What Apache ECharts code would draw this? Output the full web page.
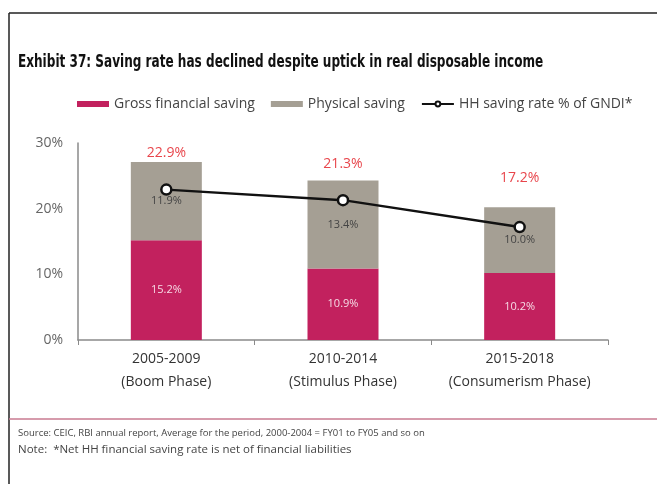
<!DOCTYPE html>
<html><head><meta charset="utf-8">
<script src="https://cdn.jsdelivr.net/npm/echarts@6/dist/echarts.min.js"></script>
<style>html,body{margin:0;padding:0;background:#fff}#c{width:657px;height:484px}</style>
</head><body><div id="c"></div>
<script>
const categories = ['2005-2009\n(Boom Phase)', '2010-2014\n(Stimulus Phase)', '2015-2018\n(Consumerism Phase)'];
const grossFinancial = [15.2, 10.9, 10.2];
const physical = [11.9, 13.4, 10.0];
const hhSavingRate = [22.9, 21.3, 17.2];
const yTicks = [0, 10, 20, 30];

const lineLabelDist = [23, 23, 36];
const FONT = '"Open Sans", Lato, sans-serif';

const chart = echarts.init(document.getElementById('c'), null, {renderer: 'canvas'});
chart.setOption({
  animation: false,
  backgroundColor: '#fff',
  textStyle: {fontFamily: FONT},
  grid: {left: 78, right: 49, top: 143, bottom: 144},
  legend: {
    top: 92, left: 72, itemGap: 16, itemWidth: 32, itemHeight: 6,
    textStyle: {fontFamily: FONT, fontSize: 14, color: '#444', padding: [0,0,0,0]},
    data: [
      {name: 'Gross financial saving', icon: 'rect'},
      {name: 'Physical saving', icon: 'rect'},
      {name: 'HH saving rate % of GNDI*'}
    ]
  },
  xAxis: {
    type: 'category', data: categories,
    axisLine: {lineStyle: {color: '#8a8a8a', width: 1.5}},
    axisTick: {show: true, length: 5, lineStyle: {color: '#8a8a8a'}},
    axisLabel: {interval: 0, fontFamily: FONT, fontSize: 14, color: '#333', lineHeight: 23, margin: 8}
  },
  yAxis: {
    type: 'value', min: yTicks[0], max: yTicks[yTicks.length-1], interval: 10,
    axisLine: {show: true, lineStyle: {color: '#8a8a8a', width: 1.5}},
    axisTick: {show: false}, splitLine: {show: false},
    axisLabel: {fontFamily: FONT, fontSize: 14, color: '#666', margin: 15, formatter: v => v + '%'}
  },
  series: [
    {
      name: 'Gross financial saving', type: 'bar', stack: 's', barWidth: 71,
      itemStyle: {color: '#C2215E'},
      label: {show: true, position: 'inside', color: '#f6dbe5', fontSize: 11, fontFamily: FONT, formatter: p => p.value.toFixed(1) + '%'},
      data: grossFinancial
    },
    {
      name: 'Physical saving', type: 'bar', stack: 's', barWidth: 71,
      itemStyle: {color: '#A59F94'},
      label: {show: true, position: 'inside', color: '#444', fontSize: 11, fontFamily: FONT, formatter: p => p.value.toFixed(1) + '%'},
      data: physical
    },
    {
      name: 'HH saving rate % of GNDI*', type: 'line', z: 5,
      symbol: 'circle', symbolSize: 10,
      lineStyle: {color: '#111', width: 2.5},
      itemStyle: {color: '#fff', borderColor: '#111', borderWidth: 2.5},
      data: hhSavingRate.map((v, i) => ({
        value: v,
        label: {show: true, position: 'top', distance: lineLabelDist[i], color: '#E8464C', fontSize: 14, fontFamily: FONT, formatter: p => p.value.toFixed(1) + '%'}
      }))
    }
  ],
  graphic: [
    {type: 'line', shape: {x1: 9, y1: 13, x2: 657, y2: 13}, style: {stroke: '#222', lineWidth: 1.5}},
    {type: 'line', shape: {x1: 9, y1: 13, x2: 9, y2: 484}, style: {stroke: '#222', lineWidth: 1.5}},
    {type: 'text', x: 18, y: 54, scaleX: 0.71, style: {text: 'Exhibit 37: Saving rate has declined despite uptick in real disposable income', fontFamily: '"DejaVu Sans", sans-serif', fontWeight: 'bold', fontSize: 17, fill: '#111'}},
    {type: 'line', shape: {x1: 9, y1: 419, x2: 657, y2: 419}, style: {stroke: '#C97A90', lineWidth: 1.5}},
    {type: 'text', left: 18, top: 428, style: {text: 'Source: CEIC, RBI annual report, Average for the period, 2000-2004 = FY01 to FY05 and so on', fontFamily: FONT, fontSize: 9.5, fill: '#444'}},
    {type: 'text', left: 18, top: 444, style: {text: 'Note:  *Net HH financial saving rate is net of financial liabilities', fontFamily: FONT, fontSize: 11.5, fill: '#444'}}
  ]
});
</script></body></html>
